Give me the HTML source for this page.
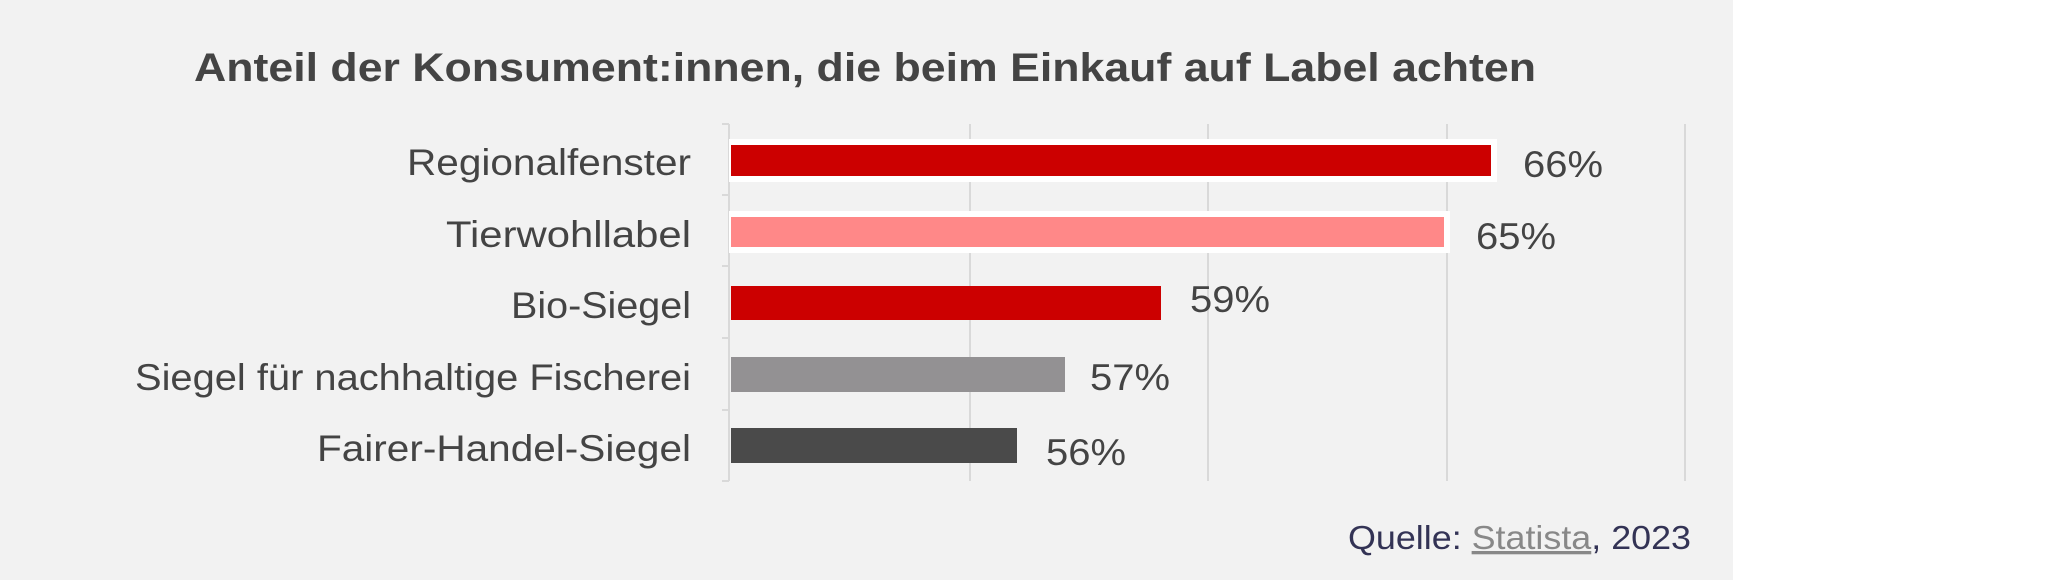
<!DOCTYPE html>
<html><head><meta charset="utf-8"><style>
html,body{margin:0;padding:0;background:#fff;}
svg{display:block;}
text{font-family:"Liberation Sans",sans-serif;}
</style></head><body>
<svg width="2055" height="580" viewBox="0 0 2055 580" xmlns="http://www.w3.org/2000/svg">
<rect x="0" y="0" width="1733" height="580" fill="#f2f2f2"/>
<text x="194" y="81" font-size="40" font-weight="bold" fill="#444" textLength="1342" lengthAdjust="spacingAndGlyphs">Anteil der Konsument:innen, die beim Einkauf auf Label achten</text>
<g stroke="#d9d9d9" stroke-width="2">
<line x1="970" y1="124" x2="970" y2="481"/>
<line x1="1208" y1="124" x2="1208" y2="481"/>
<line x1="1447" y1="124" x2="1447" y2="481"/>
<line x1="1685" y1="124" x2="1685" y2="481"/>
<line x1="729" y1="124" x2="729" y2="481"/>
<line x1="722" y1="124" x2="729" y2="124"/>
<line x1="722" y1="195" x2="729" y2="195"/>
<line x1="722" y1="266" x2="729" y2="266"/>
<line x1="722" y1="338" x2="729" y2="338"/>
<line x1="722" y1="410" x2="729" y2="410"/>
<line x1="722" y1="481" x2="729" y2="481"/>
</g>
<rect x="729" y="139" width="768" height="43" fill="#fff"/>
<rect x="731" y="145" width="760" height="31" fill="#cc0000"/>
<rect x="729" y="211" width="721" height="42" fill="#fff"/>
<rect x="731" y="217" width="713" height="30" fill="#ff8888"/>
<rect x="731" y="286" width="430" height="34" fill="#cc0000"/>
<rect x="731" y="357" width="334" height="35" fill="#939193"/>
<rect x="731" y="428" width="286" height="35" fill="#4a4a4a"/>
<g font-size="37" fill="#444" text-anchor="end" lengthAdjust="spacingAndGlyphs">
<text x="691" y="175" textLength="284" lengthAdjust="spacingAndGlyphs">Regionalfenster</text>
<text x="691" y="247" textLength="245" lengthAdjust="spacingAndGlyphs">Tierwohllabel</text>
<text x="691" y="318" textLength="180" lengthAdjust="spacingAndGlyphs">Bio-Siegel</text>
<text x="691" y="390" textLength="556" lengthAdjust="spacingAndGlyphs">Siegel für nachhaltige Fischerei</text>
<text x="691" y="461" textLength="374" lengthAdjust="spacingAndGlyphs">Fairer-Handel-Siegel</text>
</g>
<g font-size="37" fill="#444">
<text x="1523" y="177" textLength="80" lengthAdjust="spacingAndGlyphs">66%</text>
<text x="1476" y="249" textLength="80" lengthAdjust="spacingAndGlyphs">65%</text>
<text x="1190" y="312" textLength="80" lengthAdjust="spacingAndGlyphs">59%</text>
<text x="1090" y="390" textLength="80" lengthAdjust="spacingAndGlyphs">57%</text>
<text x="1046" y="465" textLength="80" lengthAdjust="spacingAndGlyphs">56%</text>
</g>
<text x="1691" y="549" font-size="33" fill="#333355" text-anchor="end" textLength="343" lengthAdjust="spacingAndGlyphs">Quelle: <tspan fill="#888" text-decoration="underline">Statista</tspan>, 2023</text>
</svg>
</body></html>
